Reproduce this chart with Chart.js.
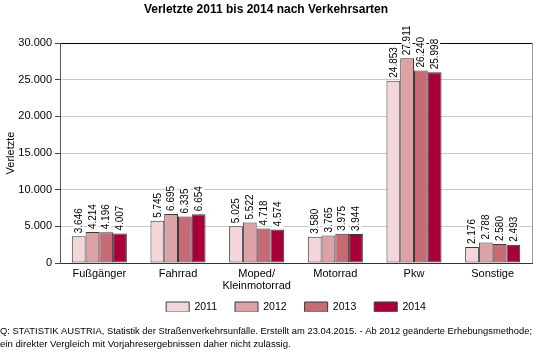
<!DOCTYPE html>
<html>
<head>
<meta charset="utf-8">
<script src="https://cdn.jsdelivr.net/npm/chart.js@4"></script>
<style>
  html, body { margin: 0; padding: 0; background: #fff; }
  #wrap { width: 550px; height: 352px; }
</style>
</head>
<body>
<div id="wrap"><canvas id="c" width="550" height="352"></canvas></div>
<script>
const categories = ['Fußgänger', 'Fahrrad', ['Moped/', 'Kleinmotorrad'], 'Motorrad', 'Pkw', 'Sonstige'];
const years = ['2011', '2012', '2013', '2014'];
const v2011 = [3646, 5745, 5025, 3580, 24853, 2176];
const v2012 = [4214, 6695, 5522, 3765, 27911, 2788];
const v2013 = [4196, 6335, 4718, 3975, 26240, 2580];
const v2014 = [4007, 6654, 4574, 3944, 25998, 2493];
const yTicks = [0, 5000, 10000, 15000, 20000, 25000, 30000];
const colors = ['#f3d6d9', '#dca2a6', '#c56b74', '#a8003b'];

const title = 'Verletzte 2011 bis 2014 nach Verkehrsarten';
const footer = [
  'Q: STATISTIK AUSTRIA, Statistik der Straßenverkehrsunfälle. Erstellt am 23.04.2015. - Ab 2012 geänderte Erhebungsmethode;',
  'ein direkter Vergleich mit Vorjahresergebnissen daher nicht zulässig.'
];

function fmt(v) { return String(v).replace(/\B(?=(\d{3})+(?!\d))/g, '.'); }

const FONT = "'Liberation Sans', Arial, Helvetica, sans-serif";
Chart.defaults.font.family = FONT;
Chart.defaults.color = '#000';

const series = [v2011, v2012, v2013, v2014];
const LEG_PAD = 18;
const LEG_FONT = 10.5;

const legendTweak = {
  id: 'legendTweak',
  beforeInit(chart) {
    const lg = chart.legend;
    if (!lg) return;
    const orig = lg.fit;
    lg.fit = function () { orig.call(this); this.height = 28; };
  },
  afterLayout(chart) {
    const lg = chart.legend;
    if (!lg) return;
    const center = chart.chartArea.bottom + 44;
    const top = center - (LEG_PAD + LEG_FONT / 2);
    const h = lg.bottom - lg.top;
    lg.top = top;
    lg.bottom = top + h;
  }
};

const frame = {
  id: 'frame',
  afterDraw(chart) {
    const a = chart.chartArea, ctx = chart.ctx;
    ctx.save();
    ctx.strokeStyle = '#999';
    ctx.lineWidth = 1;
    ctx.beginPath();
    ctx.moveTo(Math.round(a.right) + 0.5, a.top);
    ctx.lineTo(Math.round(a.right) + 0.5, a.bottom);
    ctx.stroke();
    ctx.restore();
  }
};

const valueLabels = {
  id: 'valueLabels',
  afterDatasetsDraw(chart) {
    const ctx = chart.ctx;
    ctx.save();
    ctx.font = '10px ' + FONT;
    chart.data.datasets.forEach((ds, di) => {
      const meta = chart.getDatasetMeta(di);
      meta.data.forEach((bar, i) => {
        const txt = fmt(ds.data[i]);
        const w = ctx.measureText(txt).width;
        ctx.save();
        ctx.translate(bar.x, bar.y - 3);
        ctx.rotate(-Math.PI / 2);
        ctx.fillStyle = '#fff';
        ctx.fillRect(-1, -5.5, w + 2, 11);
        ctx.fillStyle = '#000';
        ctx.textAlign = 'left';
        ctx.textBaseline = 'middle';
        ctx.fillText(txt, 0, 0.5);
        ctx.restore();
      });
    });
    ctx.restore();
  }
};

new Chart(document.getElementById('c'), {
  type: 'bar',
  data: {
    labels: categories,
    datasets: years.map((y, i) => ({
      label: y,
      data: series[i],
      backgroundColor: colors[i],
      borderColor: '#3a3a3a',
      borderWidth: 1,
      borderSkipped: false,
      categoryPercentage: 0.7,
      barPercentage: 1.0
    }))
  },
  options: {
    responsive: false,
    animation: false,
    devicePixelRatio: 1,
    layout: { padding: { left: 0, right: 18, top: 0, bottom: 0 } },
    plugins: {
      title: {
        display: true,
        text: title,
        font: { size: 12, weight: 'bold' },
        padding: { top: 2, bottom: 26.6 }
      },
      subtitle: {
        display: true,
        position: 'bottom',
        align: 'start',
        text: footer,
        font: { size: 9.6, lineHeight: '13px' },
        padding: { top: 0, bottom: 1 }
      },
      legend: {
        position: 'bottom',
        fullSize: false,
        labels: {
          boxWidth: 23,
          boxHeight: 10,
          padding: LEG_PAD,
          font: { size: LEG_FONT },
          color: '#000'
        }
      },
      tooltip: { enabled: false }
    },
    scales: {
      x: {
        grid: { display: false, drawTicks: false },
        border: { display: true, color: '#333' },
        ticks: { font: { size: 11, lineHeight: '12px' }, padding: 5, color: '#000', maxRotation: 0, autoSkip: false }
      },
      y: {
        min: 0,
        max: 30000,
        afterBuildTicks(s) { s.ticks = yTicks.map(v => ({ value: v })); },
        ticks: { callback: v => fmt(v), font: { size: 11 }, padding: 3, color: '#000' },
        grid: {
          color: c => (c.tick && c.tick.value === 30000) ? '#000' : '#c8c8c8',
          tickColor: '#444',
          tickLength: 5
        },
        border: { display: true, color: '#555' },
        title: { display: true, text: 'Verletzte', font: { size: 11 }, color: '#000', padding: { top: 4, bottom: 4 } },
        afterFit(s) { s.width = 60; }
      }
    }
  },
  plugins: [legendTweak, frame, valueLabels]
});
</script>
</body>
</html>
